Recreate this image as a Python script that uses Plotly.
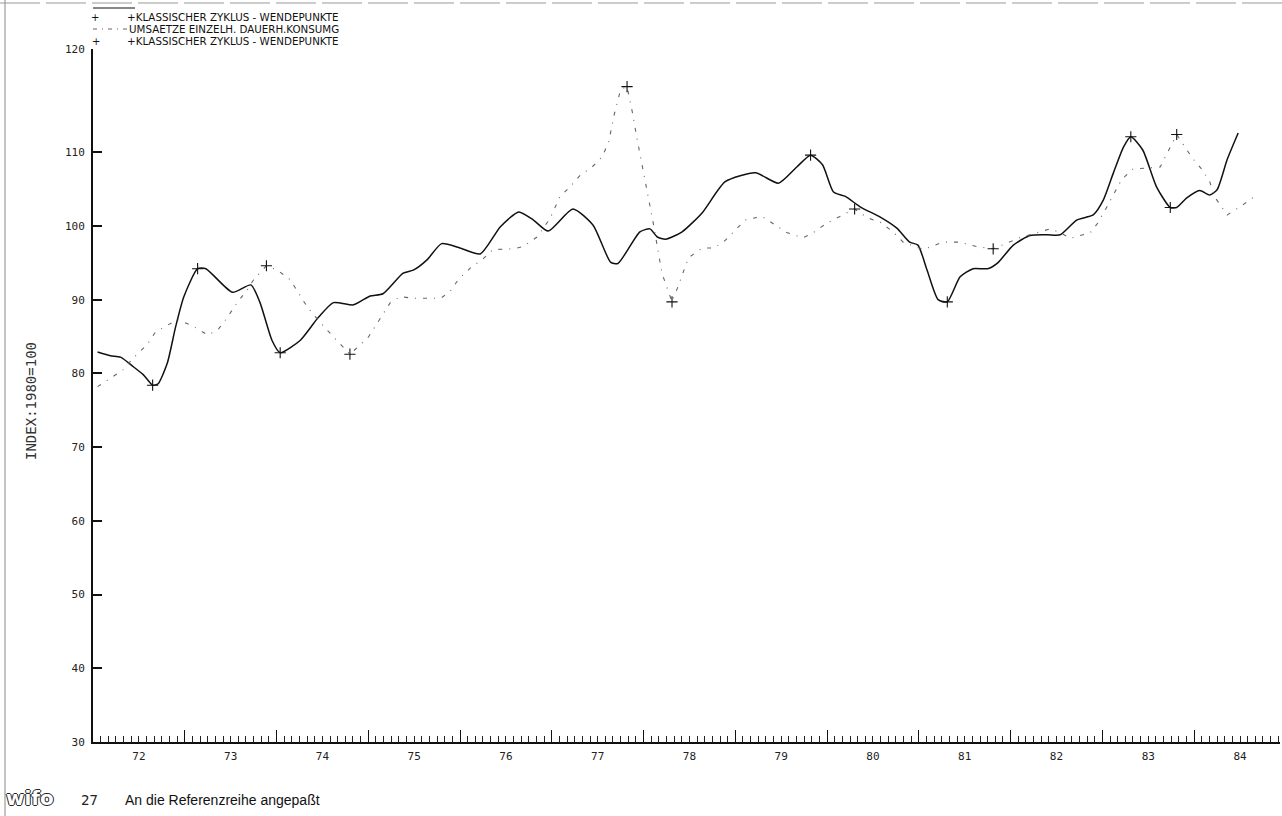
import plotly.graph_objects as go

# ---------------- data ----------------
zyklus_t = [1972.05, 1972.19, 1972.30, 1972.44, 1972.55, 1972.65, 1972.71, 1972.81, 1972.90, 1972.99,
            1973.14, 1973.23, 1973.52, 1973.72, 1973.82, 1973.95, 1974.04, 1974.26, 1974.45, 1974.62,
            1974.84, 1975.02, 1975.16, 1975.38, 1975.49, 1975.64, 1975.80, 1976.00, 1976.22, 1976.44,
            1976.64, 1976.80, 1976.96, 1977.23, 1977.45, 1977.64, 1977.72, 1977.96, 1978.07, 1978.15,
            1978.24, 1978.42, 1978.64, 1978.89, 1979.22, 1979.47, 1979.67, 1979.82, 1979.95, 1980.07,
            1980.20, 1980.36, 1980.58, 1980.76, 1980.90, 1980.99, 1981.09, 1981.21, 1981.31, 1981.45,
            1981.59, 1981.75, 1981.86, 1982.03, 1982.21, 1982.40, 1982.54, 1982.72, 1982.90, 1983.01,
            1983.12, 1983.23, 1983.31, 1983.44, 1983.59, 1983.74, 1983.81, 1983.92, 1984.06, 1984.17,
            1984.25, 1984.36, 1984.48]
zyklus_v = [82.9, 82.4, 82.2, 80.9, 79.8, 78.4, 78.6, 81.4, 86.3, 90.4,
            94.2, 94.2, 91.0, 92.0, 89.6, 84.5, 82.8, 84.5, 87.5, 89.6,
            89.3, 90.5, 90.8, 93.6, 94.0, 95.4, 97.6, 97.0, 96.2, 99.9,
            101.9, 100.8, 99.3, 102.3, 100.1, 95.1, 94.9, 99.2, 99.6, 98.5,
            98.2, 99.2, 101.8, 106.0, 107.2, 105.8, 108.0, 109.6, 108.3, 104.6,
            104.0, 102.6, 101.2, 99.7, 97.8, 97.4, 94.0, 90.0, 89.7, 93.1,
            94.2, 94.2, 95.0, 97.4, 98.7, 98.8, 98.8, 100.8, 101.5, 103.5,
            107.2, 110.7, 112.1, 110.3, 105.3, 102.5, 102.5, 103.8, 104.8, 104.2,
            104.9, 109.0, 112.6]

umsatz_t = [1972.05, 1972.33, 1972.44, 1972.59, 1972.68, 1972.92, 1973.09, 1973.25, 1973.36, 1973.47,
            1973.57, 1973.68, 1973.75, 1973.89, 1974.01, 1974.15, 1974.24, 1974.34, 1974.45, 1974.55,
            1974.80, 1974.88, 1975.00, 1975.24, 1975.35, 1975.49, 1975.64, 1975.79, 1975.89, 1975.98,
            1976.13, 1976.24, 1976.36, 1976.58, 1976.69, 1976.84, 1976.98, 1977.09, 1977.20, 1977.31,
            1977.44, 1977.55, 1977.62, 1977.68, 1977.75, 1977.82, 1977.88, 1977.92, 1978.11, 1978.20,
            1978.31, 1978.37, 1978.49, 1978.64, 1978.76, 1978.87, 1979.02, 1979.11, 1979.29, 1979.56,
            1979.74, 1979.85, 1980.00, 1980.14, 1980.30, 1980.44, 1980.58, 1980.72, 1980.83, 1981.05,
            1981.26, 1981.45, 1981.63, 1981.81, 1981.96, 1982.10, 1982.32, 1982.43, 1982.54, 1982.65,
            1982.87, 1982.95, 1983.05, 1983.21, 1983.33, 1983.48, 1983.63, 1983.81, 1983.90, 1983.98,
            1984.09, 1984.17, 1984.22, 1984.36, 1984.50, 1984.66]
umsatz_v = [78.2, 80.5, 82.1, 83.9, 85.6, 87.3, 86.4, 85.2, 85.9, 87.7,
            89.6, 91.3, 92.7, 94.6, 94.0, 92.7, 90.9, 88.9, 87.3, 85.9,
            82.6, 83.5, 84.9, 89.6, 90.4, 90.2, 90.2, 90.2, 91.1, 92.7,
            94.5, 95.4, 96.8, 96.9, 97.2, 98.5, 101.0, 104.0, 105.3, 106.9,
            108.0, 109.4, 111.4, 115.1, 118.5, 118.9, 115.3, 112.4, 100.1, 93.6,
            89.7, 91.6, 95.7, 97.0, 97.0, 97.8, 99.7, 100.8, 101.3, 99.1,
            98.4, 99.1, 100.4, 101.3, 102.3, 101.1, 100.5, 99.2, 97.8, 96.8,
            97.8, 97.8, 97.2, 96.9, 97.7, 98.4, 99.2, 99.6, 99.1, 98.3,
            99.1, 100.4, 102.6, 106.3, 107.7, 107.9, 108.0, 112.4, 110.7, 109.2,
            107.6, 106.0, 104.0, 101.5, 102.6, 104.0]

wp_zyklus_t = [1972.65, 1973.14, 1974.04, 1979.82, 1981.31, 1983.31, 1983.74]
wp_zyklus_v = [78.4, 94.2, 82.8, 109.6, 89.7, 112.1, 102.5]
wp_umsatz_t = [1973.89, 1974.80, 1977.82, 1978.31, 1980.30, 1981.81, 1983.81]
wp_umsatz_v = [94.6, 82.6, 118.9, 89.7, 102.3, 96.9, 112.4]

year_labels = ["72", "73", "74", "75", "76", "77", "78", "79", "80", "81", "82", "83", "84"]
y_tick_labels = ["30", "40", "50", "60", "70", "80", "90", "100", "110", "120"]
y_top = 124.0   # the plotter put its top label "120" at the axis end

legend_texts = ["+KLASSISCHER ZYKLUS - WENDEPUNKTE",
                "UMSAETZE EINZELH. DAUERH.KONSUMG",
                "+KLASSISCHER ZYKLUS - WENDEPUNKTE"]
y_title = "INDEX:1980=100"
footer_no = "27"
footer_text = "An die Referenzreihe angepaßt"

# ---------------- layout geometry ----------------
W, H = 1282, 816
ML, MR, MT, MB = 93, 2, 49, 74
PW, PH = W - ML - MR, H - MT - MB
X0 = 1972.0
X1 = X0 + (W - MR - 92.5) / 91.8


def xp(px):
    return (px - ML) / PW


def yp(py):
    return (H - MB - py) / PH


MONO = "DejaVu Sans Mono"
SANS = "DejaVu Sans"

fig = go.Figure()
fig.add_trace(go.Scatter(x=zyklus_t, y=zyklus_v, mode="lines",
                         line=dict(color="#111", width=1.5, shape="spline", smoothing=0.6),
                         showlegend=False, hoverinfo="skip"))
fig.add_trace(go.Scatter(x=umsatz_t, y=umsatz_v, mode="lines",
                         line=dict(color="#666", width=1.1, dash="4px,7px,1px,7px"),
                         showlegend=False, hoverinfo="skip"))
fig.add_trace(go.Scatter(x=wp_zyklus_t, y=wp_zyklus_v, mode="markers",
                         marker=dict(symbol="cross-thin", size=8, line=dict(color="#111", width=1.1)),
                         showlegend=False, hoverinfo="skip"))
fig.add_trace(go.Scatter(x=wp_umsatz_t, y=wp_umsatz_v, mode="markers",
                         marker=dict(symbol="cross-thin", size=8, line=dict(color="#111", width=1.1)),
                         showlegend=False, hoverinfo="skip"))
# invisible trace to activate the label axis
fig.add_trace(go.Scatter(x=[X0], y=[30], xaxis="x2", mode="markers", marker=dict(opacity=0),
                         showlegend=False, hoverinfo="skip"))

years = list(range(1973, 1985))
y_vals = [float(v) for v in y_tick_labels[:-1]] + [y_top]
fig.update_layout(
    width=W, height=H,
    margin=dict(l=ML, r=MR, t=MT, b=MB, pad=0),
    paper_bgcolor="white", plot_bgcolor="white",
    showlegend=False,
    xaxis=dict(range=[X0, X1], tickmode="array", tickvals=years, showticklabels=False,
               ticks="inside", ticklen=12, tickwidth=1.2, tickcolor="#111",
               minor=dict(tickmode="linear", tick0=X0, dtick=1 / 12, ticks="inside", ticklen=6,
                          tickwidth=1, tickcolor="#222"),
               showline=True, linecolor="#111", linewidth=2, showgrid=False, zeroline=False),
    xaxis2=dict(range=[X0, X1], overlaying="x", side="bottom", tickmode="array",
                tickvals=[X0 + i + 0.5 for i in range(len(year_labels))], ticktext=year_labels,
                ticks="", showline=False, showgrid=False, zeroline=False, ticklabelstandoff=6,
                tickfont=dict(family=MONO, size=11, color="#222")),
    yaxis=dict(range=[30, y_top], tickmode="array", tickvals=y_vals, ticktext=y_tick_labels,
               ticks="inside", ticklen=9, tickwidth=1.5,
               tickcolor="#111", showline=True, linecolor="#111", linewidth=2, showgrid=False, zeroline=False,
               ticklabelstandoff=4, tickfont=dict(family=MONO, size=11, color="#222")),
)

ann = []
shapes = []


def text(px, py, s, size, family=SANS, anchor="left", angle=0, color="#111", **fkw):
    ann.append(dict(xref="paper", yref="paper", x=xp(px), y=yp(py), text=s, showarrow=False,
                    xanchor=anchor, yanchor="middle", textangle=angle, borderpad=0,
                    font=dict(family=family, size=size, color=color, **fkw)))


# legend block
shapes.append(dict(type="line", xref="paper", yref="paper", x0=xp(93), x1=xp(135), y0=yp(8), y1=yp(8),
                   line=dict(color="#111", width=1.2)))
text(95, 17, "+", 10, anchor="center")
text(126, 17, legend_texts[0], 10.3)
shapes.append(dict(type="line", xref="paper", yref="paper", x0=xp(93), x1=xp(128), y0=yp(29), y1=yp(29),
                   line=dict(color="#666", width=1, dash="4px,5px,1px,5px")))
text(128, 29, legend_texts[1], 10.3)
text(96, 41, "+", 10, anchor="center")
text(126, 41, legend_texts[2], 10.3)
# y axis title
text(31, 401, y_title, 14, family=MONO, anchor="center", angle=-90, color="#333")
# footer
text(5, 798, "<b>wifo</b>", 20, color="white",
     shadow="1px 0 0 #222, -1px 0 0 #222, 0 1px 0 #222, 0 -1px 0 #222")
text(80, 800, footer_no, 14, family=MONO, color="#222")
text(124, 800, footer_text, 14, family="Liberation Sans")
# scan frame edges
shapes.append(dict(type="line", xref="paper", yref="paper", x0=xp(5), x1=xp(5), y0=yp(0), y1=yp(H),
                   line=dict(color="#888", width=1)))
shapes.append(dict(type="line", xref="paper", yref="paper", x0=xp(0), x1=xp(W), y0=yp(3), y1=yp(3),
                   line=dict(color="#999", width=1, dash="40px,6px")))

fig.update_layout(annotations=ann, shapes=shapes)
fig.write_html("out.html", config={"displayModeBar": False},
               post_script="document.body.style.margin='0';document.body.style.overflow='hidden';")
